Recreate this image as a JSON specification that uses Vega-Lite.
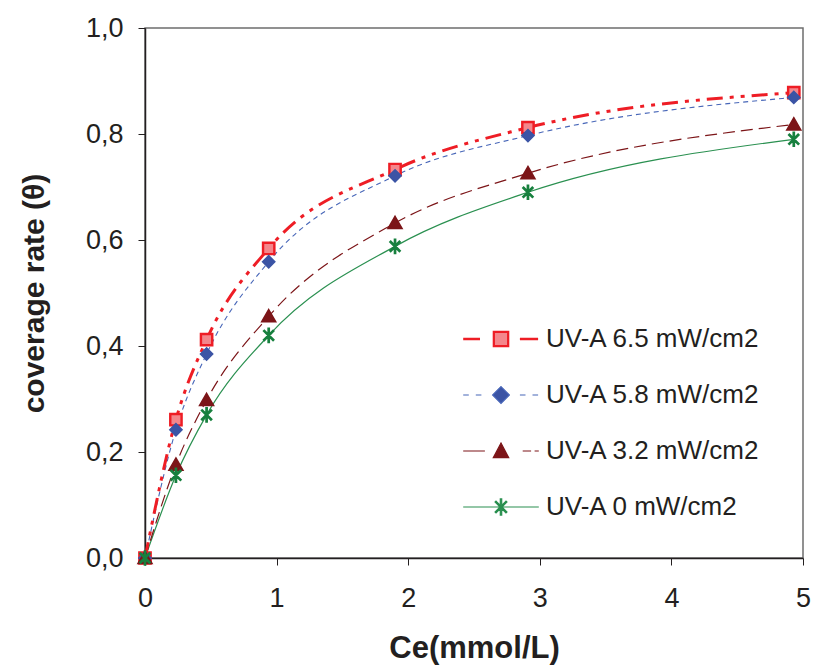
{
  "$schema": "https://vega.github.io/schema/vega-lite/v6.json",
  "width": 658,
  "height": 530,
  "autosize": {"type": "none"},
  "padding": {"left": 145, "top": 28, "right": 10, "bottom": 110},
  "background": "white",
  "config": {
    "font": "Liberation Sans",
    "view": {"stroke": "#6e6e6e", "strokeWidth": 1.5},
    "axis": {
      "grid": false,
      "domainColor": "#231F20",
      "domainWidth": 1.5,
      "tickColor": "#231F20",
      "tickWidth": 1,
      "tickSize": 7,
      "labelFlush": false,
      "labelFont": "Liberation Sans",
      "labelFontSize": 27,
      "labelColor": "#231F20",
      "titleFont": "Liberation Sans",
      "titleFontSize": 28,
      "titleFontWeight": "bold",
      "titleColor": "#231F20"
    }
  },
  "data": {
    "values": [
      {"series": "UV-A 6.5 mW/cm2", "ce": 0, "theta": 0},
      {"series": "UV-A 6.5 mW/cm2", "ce": 0.235, "theta": 0.261},
      {"series": "UV-A 6.5 mW/cm2", "ce": 0.468, "theta": 0.412},
      {"series": "UV-A 6.5 mW/cm2", "ce": 0.94, "theta": 0.584},
      {"series": "UV-A 6.5 mW/cm2", "ce": 1.9, "theta": 0.733},
      {"series": "UV-A 6.5 mW/cm2", "ce": 2.91, "theta": 0.812},
      {"series": "UV-A 6.5 mW/cm2", "ce": 4.93, "theta": 0.878},
      {"series": "UV-A 5.8 mW/cm2", "ce": 0, "theta": 0},
      {"series": "UV-A 5.8 mW/cm2", "ce": 0.235, "theta": 0.242},
      {"series": "UV-A 5.8 mW/cm2", "ce": 0.468, "theta": 0.385},
      {"series": "UV-A 5.8 mW/cm2", "ce": 0.94, "theta": 0.559},
      {"series": "UV-A 5.8 mW/cm2", "ce": 1.9, "theta": 0.721},
      {"series": "UV-A 5.8 mW/cm2", "ce": 2.91, "theta": 0.797},
      {"series": "UV-A 5.8 mW/cm2", "ce": 4.93, "theta": 0.869},
      {"series": "UV-A 3.2 mW/cm2", "ce": 0, "theta": 0},
      {"series": "UV-A 3.2 mW/cm2", "ce": 0.235, "theta": 0.176},
      {"series": "UV-A 3.2 mW/cm2", "ce": 0.468, "theta": 0.298},
      {"series": "UV-A 3.2 mW/cm2", "ce": 0.94, "theta": 0.456},
      {"series": "UV-A 3.2 mW/cm2", "ce": 1.9, "theta": 0.632},
      {"series": "UV-A 3.2 mW/cm2", "ce": 2.91, "theta": 0.726},
      {"series": "UV-A 3.2 mW/cm2", "ce": 4.93, "theta": 0.818},
      {"series": "UV-A 0 mW/cm2", "ce": 0, "theta": 0},
      {"series": "UV-A 0 mW/cm2", "ce": 0.235, "theta": 0.156},
      {"series": "UV-A 0 mW/cm2", "ce": 0.468, "theta": 0.27},
      {"series": "UV-A 0 mW/cm2", "ce": 0.94, "theta": 0.42},
      {"series": "UV-A 0 mW/cm2", "ce": 1.9, "theta": 0.588},
      {"series": "UV-A 0 mW/cm2", "ce": 2.91, "theta": 0.69},
      {"series": "UV-A 0 mW/cm2", "ce": 4.93, "theta": 0.79}
    ]
  },
  "encoding": {
    "x": {
      "field": "ce",
      "type": "quantitative",
      "scale": {"domain": [0, 5], "nice": false},
      "axis": {"values": [0, 1, 2, 3, 4, 5], "format": "d", "labelPadding": 20, "title": "Ce(mmol/L)", "titleFontSize": 31, "titlePadding": 22}
    },
    "y": {
      "field": "theta",
      "type": "quantitative",
      "scale": {"domain": [0, 1], "nice": false},
      "axis": {"values": [0, 0.2, 0.4, 0.6, 0.8, 1], "labelExpr": "replace(format(datum.value, '.1f'), '.', ',')", "labelPadding": 15, "title": "coverage rate (θ)", "titleFontSize": 30, "titlePadding": 36}
    }
  },
  "layer": [
    {
      "transform": [{"filter": "datum.series === 'UV-A 0 mW/cm2'"}],
      "mark": {"type": "line", "interpolate": "monotone", "stroke": "#2A9050", "strokeWidth": 1.2}
    },
    {
      "transform": [{"filter": "datum.series === 'UV-A 3.2 mW/cm2'"}],
      "mark": {"type": "line", "interpolate": "monotone", "stroke": "#7C1518", "strokeWidth": 1.2, "strokeDash": [12, 6]}
    },
    {
      "transform": [{"filter": "datum.series === 'UV-A 5.8 mW/cm2'"}],
      "mark": {"type": "line", "interpolate": "monotone", "stroke": "#4766B8", "strokeWidth": 1.1, "strokeDash": [5, 4]}
    },
    {
      "transform": [{"filter": "datum.series === 'UV-A 6.5 mW/cm2'"}],
      "mark": {"type": "line", "interpolate": "monotone", "stroke": "#EE1D25", "strokeWidth": 3, "strokeDash": [16, 7, 4, 7, 4, 7]}
    },
    {
      "mark": {"type": "point", "filled": true, "size": 150, "strokeWidth": 1.5, "opacity": 1},
      "encoding": {
        "shape": {
          "field": "series", "type": "nominal",
          "scale": {
            "domain": ["UV-A 6.5 mW/cm2", "UV-A 5.8 mW/cm2", "UV-A 3.2 mW/cm2", "UV-A 0 mW/cm2"],
            "range": [
              "M-1,-1H1V1H-1ZM-0.85,-0.85H0.85V0.85H-0.85Z",
              "diamond",
              "M0,-1.1L1.15,0.9H-1.15Z",
              "M-0.1,-1.15H0.1V1.15H-0.1ZM-0.71,-0.85L0.85,0.71L0.71,0.85L-0.85,-0.71ZM0.71,-0.85L-0.85,0.71L-0.71,0.85L0.85,-0.71Z"
            ]
          },
          "legend": null
        },
        "fill": {
          "field": "series", "type": "nominal",
          "scale": {
            "domain": ["UV-A 6.5 mW/cm2", "UV-A 5.8 mW/cm2", "UV-A 3.2 mW/cm2", "UV-A 0 mW/cm2"],
            "range": ["#F4868B", "#3B54A5", "#7C1518", "#17803E"]
          },
          "legend": null
        },
        "stroke": {
          "field": "series", "type": "nominal",
          "scale": {
            "domain": ["UV-A 6.5 mW/cm2", "UV-A 5.8 mW/cm2", "UV-A 3.2 mW/cm2", "UV-A 0 mW/cm2"],
            "range": ["#EE1D25", "#3B54A5", "#7C1518", "#17803E"]
          },
          "legend": null
        }
      }
    },
    {
      "mark": {"type": "point", "filled": true, "size": 196, "opacity": 0},
      "encoding": {
        "shape": {
          "field": "series", "type": "nominal",
          "scale": {
            "domain": ["UV-A 6.5 mW/cm2", "UV-A 5.8 mW/cm2", "UV-A 3.2 mW/cm2", "UV-A 0 mW/cm2"],
            "range": [
              "M-5.4,-0.1H-3M-5.4,0.1H-3M2.7,-0.1H5.3M2.7,0.1H5.3M-1.1,-1.1H1.1V1.1H-1.1ZM-0.95,-0.95H0.95V0.95H-0.95Z",
              "M-5.4,0H-4.6M-3.6,0H-2.8M2.7,0H3.5M4.5,0H5.3M0,-1.2L1.2,0L0,1.2L-1.2,0Z",
              "M-5.4,0H-2.3M3.1,0H4.3M4.8,0H5.4M0,-1.15L1.1,0.95H-1.1Z",
              "M-5.4,0H5.4M-0.1,-1.15H0.1V1.15H-0.1ZM-0.71,-0.85L0.85,0.71L0.71,0.85L-0.85,-0.71ZM0.71,-0.85L-0.85,0.71L-0.71,0.85L0.85,-0.71Z"
            ]
          },
          "legend": {
            "title": null,
            "orient": "none",
            "legendX": 343,
            "legendY": 298,
            "symbolSize": 196,
            "symbolStrokeWidth": 1.2,
            "symbolOpacity": 1,
            "labelFont": "Liberation Sans",
            "labelFontSize": 26,
            "labelColor": "#231F20",
            "labelOffset": 32,
            "labelLimit": 400,
            "rowPadding": 30,
            "padding": 0
          }
        },
        "fill": {
          "field": "series", "type": "nominal",
          "scale": {
            "domain": ["UV-A 6.5 mW/cm2", "UV-A 5.8 mW/cm2", "UV-A 3.2 mW/cm2", "UV-A 0 mW/cm2"],
            "range": ["#F4868B", "#3B54A5", "#7C1518", "#17803E"]
          }
        },
        "stroke": {
          "field": "series", "type": "nominal",
          "scale": {
            "domain": ["UV-A 6.5 mW/cm2", "UV-A 5.8 mW/cm2", "UV-A 3.2 mW/cm2", "UV-A 0 mW/cm2"],
            "range": ["#EE1D25", "#4766B8", "#7C1518", "#2A9050"]
          }
        }
      }
    }
  ],
  "resolve": {"scale": {"shape": "independent", "fill": "independent", "stroke": "independent"}}
}
